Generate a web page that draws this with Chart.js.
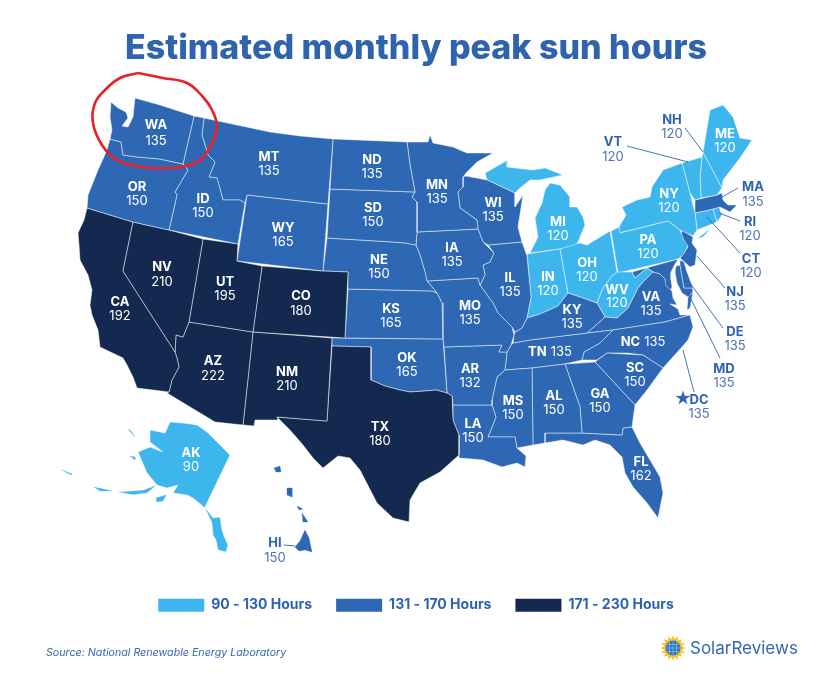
<!DOCTYPE html>
<html><head><meta charset="utf-8">
<style>html,body{margin:0;padding:0;background:#fff}canvas{display:block}</style>
<script src="https://cdn.jsdelivr.net/npm/chart.js@4"></script>
</head><body>
<canvas id="c" width="819" height="674"></canvas>
<script>
const chartTitle = "Estimated monthly peak sun hours";
const sourceNote = "Source: National Renewable Energy Laboratory";
const legendLabels = ["90 - 130 Hours", "131 - 170 Hours", "171 - 230 Hours"];
const stateCodes = ["WA","OR","ID","MT","WY","NV","UT","CO","CA","AZ","NM","TX","ND","SD","NE","KS","OK","MN","IA","MO","AR","LA","WI","IL","MS","AL","GA","SC","FL","KY","TN","NC","VA","WV","OH","IN","MI","PA","NY","ME","VT","NH","MA","RI","CT","NJ","DE","MD","DC","AK","HI"];
const stateHours = [135,150,150,135,165,210,195,180,192,222,210,180,135,150,150,165,165,135,135,135,132,150,135,135,150,150,150,150,162,135,135,135,135,120,120,120,120,120,120,120,120,120,135,120,120,135,135,135,135,90,150];

// Map geometry, in the chart's own x/y units
const outlines = {
WA:[[[111,102],[118,108],[126,112],[128,118],[122,126],[128,127],[133,117],[135,98],[160,105],[194,116],[183,164],[160,159],[137,157],[123,155],[121,142],[110,139],[112,130],[110,117]]],
OR:[[[110,139],[121,142],[123,155],[137,157],[160,159],[183,164],[188,170],[175,192],[177,195],[169,230],[133,222],[87,208],[88,195],[98,170],[107,150]]],
ID:[[[194,116],[204,118],[202,135],[208,155],[215,162],[209,177],[217,178],[223,200],[240,200],[245,203],[238,244],[169,230],[177,195],[175,192],[188,170],[183,164]]],
MT:[[[204,118],[237,125],[270,132],[300,136],[333,139],[328,204],[247,195],[245,203],[240,200],[223,200],[217,178],[209,177],[215,162],[208,155],[202,135]]],
WY:[[[247,195],[328,204],[323,271],[237,261]]],
NV:[[[133,222],[169,230],[203,239],[189,322],[183,337],[176,335],[175,352],[123,271]]],
UT:[[[203,239],[238,244],[237,261],[262,266],[253,332],[189,322]]],
CO:[[[262,266],[323,271],[348,272],[345,338],[253,332]]],
CA:[[[87,208],[133,222],[123,271],[175,352],[177,358],[179,367],[172,380],[169,392],[137,388],[133,377],[127,365],[123,358],[100,347],[98,330],[92,315],[90,305],[92,290],[88,275],[80,260],[79,245],[78,233],[84,220]]],
AZ:[[[189,322],[253,332],[243,425],[215,422],[167,393],[169,392],[172,380],[179,367],[177,358],[175,352],[176,335],[183,337]]],
NM:[[[253,332],[332,338],[327,421],[277,417],[278,420],[255,420],[254,426],[243,425]]],
TX:[[[332,346],[371,347],[371,380],[385,386],[400,390],[410,392],[425,391],[436,390],[447,393],[452,396],[453,420],[459,435],[459,455],[440,472],[420,483],[410,500],[409,522],[393,518],[377,503],[360,470],[350,458],[338,456],[323,468],[313,458],[303,445],[290,430],[277,417],[327,421]]],
ND:[[[333,139],[407,142],[410,165],[415,192],[330,189]]],
SD:[[[330,189],[415,192],[412,197],[417,202],[417,232],[416,245],[405,243],[393,242],[327,238]]],
NE:[[[327,238],[393,242],[405,243],[416,245],[420,255],[425,272],[427,281],[437,293],[432,291],[348,289],[348,272],[323,271]]],
KS:[[[348,289],[432,291],[437,293],[442,303],[443,339],[345,338]]],
OK:[[[332,338],[443,339],[447,393],[436,390],[425,391],[410,392],[400,390],[385,386],[371,380],[371,347],[332,346]]],
MN:[[[407,142],[428,142],[430,135],[433,143],[453,147],[467,153],[493,153],[477,162],[466,173],[463,177],[463,187],[458,192],[460,208],[477,220],[478,229],[417,232],[417,202],[412,197],[415,192],[410,165]]],
IA:[[[417,232],[478,229],[483,242],[494,253],[490,262],[483,265],[485,275],[480,285],[478,278],[427,281],[425,272],[420,255],[416,245]]],
MO:[[[427,281],[478,278],[480,285],[493,303],[498,313],[512,327],[514,335],[511,345],[507,352],[499,352],[502,345],[444,347],[443,339],[442,303],[437,293]]],
AR:[[[444,347],[502,345],[499,352],[507,352],[505,370],[497,377],[492,400],[492,405],[453,405],[452,396],[447,393]]],
LA:[[[453,405],[492,405],[496,417],[488,437],[515,437],[517,448],[526,456],[525,467],[517,463],[502,467],[483,460],[460,458],[459,455],[459,435],[453,420]]],
WI:[[[466,176],[487,180],[515,193],[515,207],[523,195],[518,227],[522,242],[488,245],[483,242],[478,229],[477,220],[460,208],[458,192],[463,187],[463,177]]],
IL:[[[488,245],[522,242],[527,256],[531,297],[527,318],[522,328],[515,332],[512,327],[498,313],[493,303],[480,285],[485,275],[483,265],[490,262],[494,253]]],
MS:[[[505,370],[532,368],[533,445],[517,448],[515,437],[488,437],[496,417],[492,405],[492,400],[497,377]]],
AL:[[[532,368],[565,364],[580,407],[582,433],[545,433],[545,443],[533,445]]],
GA:[[[565,364],[595,362],[635,405],[632,427],[623,428],[622,435],[582,433],[580,407]]],
SC:[[[595,362],[607,353],[643,355],[663,368],[647,390],[635,405]]],
FL:[[[545,433],[582,433],[622,435],[623,428],[632,427],[640,443],[660,477],[663,493],[658,518],[647,503],[633,487],[625,473],[622,457],[610,445],[595,440],[583,445],[563,440],[545,443]]],
KY:[[[527,318],[540,314],[558,306],[568,293],[580,297],[597,303],[605,317],[587,333],[530,340],[513,343],[514,335],[515,332],[522,328]]],
TN:[[[513,343],[530,340],[587,333],[613,330],[600,343],[584,352],[582,360],[565,364],[532,368],[505,370],[507,352],[511,345]]],
NC:[[[613,330],[665,322],[690,315],[693,327],[688,340],[681,348],[663,368],[643,355],[627,353],[607,353],[597,360],[582,360],[584,352],[600,343]]],
VA:[[[605,317],[617,318],[628,308],[638,288],[643,282],[650,275],[653,272],[660,274],[665,279],[666,286],[672,291],[673,298],[677,305],[670,304],[678,309],[680,315],[690,315],[665,322],[613,330],[587,333]],[[688,297],[693,292],[690,308],[687,310]]],
WV:[[[617,272],[632,272],[635,278],[647,268],[653,272],[650,275],[643,282],[638,288],[628,308],[617,318],[605,317],[597,303],[603,288],[612,276]]],
OH:[[[560,249],[580,243],[587,245],[610,231],[617,272],[612,276],[603,288],[597,303],[580,297],[568,293]]],
IN:[[[527,254],[560,249],[568,293],[558,306],[540,314],[527,318],[531,297]]],
MI:[[[485,173],[508,160],[507,167],[533,170],[545,168],[563,175],[540,180],[530,180],[520,188],[515,193],[487,180]],[[550,183],[560,185],[570,197],[570,207],[577,207],[583,217],[585,225],[578,242],[575,247],[530,253],[538,237],[535,218],[542,203],[545,190]]],
PA:[[[611,231],[619,227],[620,233],[668,221],[680,230],[684,240],[688,246],[683,255],[678,259],[618,273]]],
NY:[[[619,233],[619,227],[626,215],[622,207],[637,200],[650,197],[652,187],[663,170],[682,163],[690,193],[695,213],[697,230],[693,236],[680,230],[668,221]],[[697,239],[712,227],[703,237]]],
ME:[[[703,152],[710,110],[723,105],[733,117],[740,138],[752,140],[740,158],[723,180],[722,188]]],
VT:[[[682,163],[702,157],[700,177],[701,198],[695,200],[690,193]]],
NH:[[[702,157],[703,152],[722,188],[717,195],[701,198],[700,177]]],
MA:[[[695,200],[717,195],[722,193],[723,200],[728,205],[737,205],[730,212],[720,207],[713,209],[695,213]]],
RI:[[[713,209],[719,207],[722,215],[717,222]]],
CT:[[[695,213],[713,209],[717,222],[697,230]]],
NJ:[[[682,230],[693,237],[692,243],[697,250],[695,265],[690,267],[680,258],[688,247],[680,240]]],
DE:[[[680,260],[684,262],[687,272],[693,288],[684,288],[680,265]]],
MD:[[[632,272],[678,259],[674,266],[671,272],[671,280],[672,287],[670,291],[664,287],[665,279],[660,274],[653,272],[647,268],[635,278]],[[676,266],[680,265],[684,288],[693,288],[693,292],[688,297],[682,293],[677,283],[675,272]]],
DC:[[[683,391],[684.7,396],[690,396.1],[685.7,399],[687.2,404],[683,401],[678.8,404],[680.3,399],[676,396.1],[681.3,396]]],
AK:[[[170,422],[183,423],[197,425],[207,432],[220,445],[230,455],[205,507],[207,510],[213,518],[220,517],[222,530],[224,536],[228,545],[226,552],[218,550],[216,540],[213,535],[212,523],[205,508],[193,498],[187,495],[173,493],[178,485],[167,488],[157,485],[147,493],[133,495],[117,492],[143,490],[157,485],[147,473],[138,452],[150,447],[163,452],[150,442],[150,430],[165,433]],[[128,429],[131,431],[135,437]],[[130,456],[135,457],[135,460]],[[156,498],[166,495],[163,501],[157,502]],[[62,470],[72,474],[71,475]],[[94,487],[112,491],[100,491]]],
HI:[[[305,530],[309,538],[312,552],[305,550],[299,551],[295,547],[300,541]],[[302,513],[308,522],[303,522]],[[297,506],[303,509],[299,510]],[[287,488],[292,488],[292,497],[287,495]],[[274,468],[280,466],[281,472],[276,472]]]
};
const circleMark = [[138,73],[163,78],[187,83],[203,97],[212,110],[217,127],[210,147],[197,162],[170,168],[143,167],[117,160],[102,145],[93,123],[95,103],[107,88],[120,78],[138,73]];
const leaderLines = [[[627,146],[688,162]],[[685,128],[703,152]],[[738,188],[722,197]],[[740,221],[719,213]],[[740,253],[707,217]],[[725,288],[697,256]],[[723,328],[690,283]],[[720,358],[688,293]],[[694,392],[683,350]],[[284,545],[295,546]]];
// Label anchors: [x, y of code, y of value]; inline labels are listed apart
const labelAnchors = {WA:[156,125,141],OR:[137,187,201],ID:[203,199,213],MT:[269,157,171],WY:[283,228,242],NV:[162,267,282],UT:[225,282,296],CO:[301,296,311],CA:[120,302,316],AZ:[213,361,376],NM:[287,372,386],TX:[380,427,441],ND:[372,160,174],SD:[373,208,222],NE:[379,260,274],KS:[391,309,323],OK:[407,358,372],MN:[437,185,199],IA:[452,248,262],MO:[470,306,320],AR:[470,369,383],LA:[473,424,438],WI:[493,203,217],IL:[510,278,292],MS:[513,401,415],AL:[554,396,410],GA:[600,394,408],SC:[635,368,382],FL:[641,462,476],KY:[572,310,324],VA:[651,297,311],WV:[617,290,303],OH:[587,263,277],IN:[548,277,291],MI:[558,222,236],PA:[648,240,254],NY:[669,194,208],ME:[725,134,148],AK:[191,453,467],
VT:[613,142,157],NH:[672,120,134],MA:[753,187,202],RI:[750,222,236],CT:[751,259,273],NJ:[735,292,306],DE:[735,332,346],MD:[724,369,383],DC:[699,400,414],HI:[275,543,558]};
const inlineAnchors = {TN:[550,352],NC:[643,342]};
const outsideCodes = ["VT","NH","MA","RI","CT","NJ","DE","MD","DC","HI"];
const logoText = "SolarReviews";
const logoAnchor = [673,648];

const LIGHT="#3db6ee", MID="#2e68b4", DARK="#13294f", INK="#2f63ad", INK2="#4d72b6";
const colorOf = h => h<=130 ? LIGHT : h<=170 ? MID : DARK;
const pts = a => a.map(p=>({x:p[0],y:p[1]}));

const datasets = [];
datasets.push({data:pts(circleMark),borderColor:"#e8202a",borderWidth:2.6,pointRadius:0,tension:0.4,fill:false,clip:false,order:-3});
leaderLines.forEach(l=>datasets.push({data:pts(l),borderColor:INK,borderWidth:0.9,pointRadius:0,fill:false,clip:false,order:-2}));
stateCodes.forEach((code,i)=>{
  outlines[code].forEach(r=>{
    const small = code==="DC"||code==="HI"||(code==="AK"&&r.length<6);
    datasets.push({data:pts(r.concat([r[0]])),backgroundColor:colorOf(stateHours[i]),
      borderColor:small?colorOf(stateHours[i]):"rgba(255,255,255,0.68)",borderWidth:small?0.3:0.7,
      pointRadius:0,fill:"shape",clip:false,tension:0,order:0});
  });
});
[LIGHT,MID,DARK].forEach((col,i)=>datasets.push({label:legendLabels[i],data:[],backgroundColor:col,borderColor:col,borderWidth:0,pointRadius:0}));

const textPlugin = {
  id:"stateText",
  afterDatasetsDraw(chart){
    const {ctx,scales:{x,y}} = chart;
    ctx.save();
    ctx.textAlign="center"; ctx.textBaseline="middle";
    const F="Inter, 'Noto Sans', sans-serif";
    stateCodes.forEach((code,i)=>{
      const a=labelAnchors[code];
      if(a){
        const out=outsideCodes.includes(code);
        ctx.font="700 13px "+F; ctx.fillStyle=out?INK:"#fff";
        ctx.fillText(code,x.getPixelForValue(a[0]),y.getPixelForValue(a[1]));
        ctx.font="400 13px "+F; ctx.fillStyle=out?INK2:"#fff";
        ctx.fillText(String(stateHours[i]),x.getPixelForValue(a[0]),y.getPixelForValue(a[2]));
      }
      const b=inlineAnchors[code];
      if(b){
        ctx.font="700 13px "+F; const w1=ctx.measureText(code).width;
        ctx.font="400 13px "+F; const w2=ctx.measureText(String(stateHours[i])).width;
        const gap=4, left=x.getPixelForValue(b[0])-(w1+gap+w2)/2, py=y.getPixelForValue(b[1]);
        ctx.textAlign="left"; ctx.fillStyle="#fff";
        ctx.font="700 13px "+F; ctx.fillText(code,left,py);
        ctx.font="400 13px "+F; ctx.fillText(String(stateHours[i]),left+w1+gap,py);
        ctx.textAlign="center";
      }
    });
    // logo
    const cx=x.getPixelForValue(logoAnchor[0]), cy=y.getPixelForValue(logoAnchor[1]);
    ctx.fillStyle="#f6c52b";
    for(let k=0;k<16;k++){
      const t=k*Math.PI/8;
      ctx.beginPath();
      ctx.moveTo(cx+9*Math.cos(t-0.2),cy+9*Math.sin(t-0.2));
      ctx.lineTo(cx+12.5*Math.cos(t),cy+12.5*Math.sin(t));
      ctx.lineTo(cx+9*Math.cos(t+0.2),cy+9*Math.sin(t+0.2));
      ctx.closePath(); ctx.fill();
    }
    ctx.beginPath(); ctx.arc(cx,cy,9.5,0,Math.PI*2); ctx.fill();
    ctx.fillStyle="#2f78c6"; ctx.beginPath(); ctx.arc(cx,cy,7.5,0,Math.PI*2); ctx.fill();
    ctx.strokeStyle="rgba(255,255,255,0.55)"; ctx.lineWidth=0.6;
    ctx.beginPath(); ctx.moveTo(cx-7,cy); ctx.lineTo(cx+7,cy); ctx.moveTo(cx,cy-7); ctx.lineTo(cx,cy+7);
    ctx.moveTo(cx-6,cy-3.5); ctx.lineTo(cx+6,cy-3.5); ctx.moveTo(cx-6,cy+3.5); ctx.lineTo(cx+6,cy+3.5);
    ctx.moveTo(cx-3.5,cy-6); ctx.lineTo(cx-3.5,cy+6); ctx.moveTo(cx+3.5,cy-6); ctx.lineTo(cx+3.5,cy+6); ctx.stroke();
    ctx.textAlign="left"; ctx.font="400 17px "+F; ctx.fillStyle="#3566b0";
    ctx.fillText(logoText,x.getPixelForValue(690),y.getPixelForValue(649));
    ctx.restore();
  }
};

const chart = new Chart(document.getElementById("c"),{
  type:"line",
  data:{datasets},
  plugins:[textPlugin],
  options:{
    responsive:false,animation:false,devicePixelRatio:1,events:[],
    layout:{padding:{left:46,right:33,top:0,bottom:0}},
    scales:{x:{type:"linear",display:false,min:46,max:786},y:{type:"linear",display:false,reverse:true,min:72,max:590}},
    plugins:{
      tooltip:{enabled:false},
      title:{display:true,text:chartTitle,color:INK,font:{family:"Inter, sans-serif",size:34,weight:"800"},padding:{top:28,bottom:4}},
      subtitle:{display:true,position:"bottom",align:"start",text:sourceNote,color:"#3a66ad",font:{family:"Inter, sans-serif",size:10.7,style:"italic"},padding:{top:24,bottom:15}},
      legend:{display:true,position:"bottom",labels:{boxWidth:46,boxHeight:13,padding:24,color:INK,font:{family:"Inter, sans-serif",size:14,weight:"700"},filter:it=>!!it.text}}
    }
  }
});
const a = chart.chartArea;
chart.options.scales.x.min=a.left; chart.options.scales.x.max=a.right;
chart.options.scales.y.min=a.top; chart.options.scales.y.max=a.bottom;
chart.update();
</script>
</body></html>
